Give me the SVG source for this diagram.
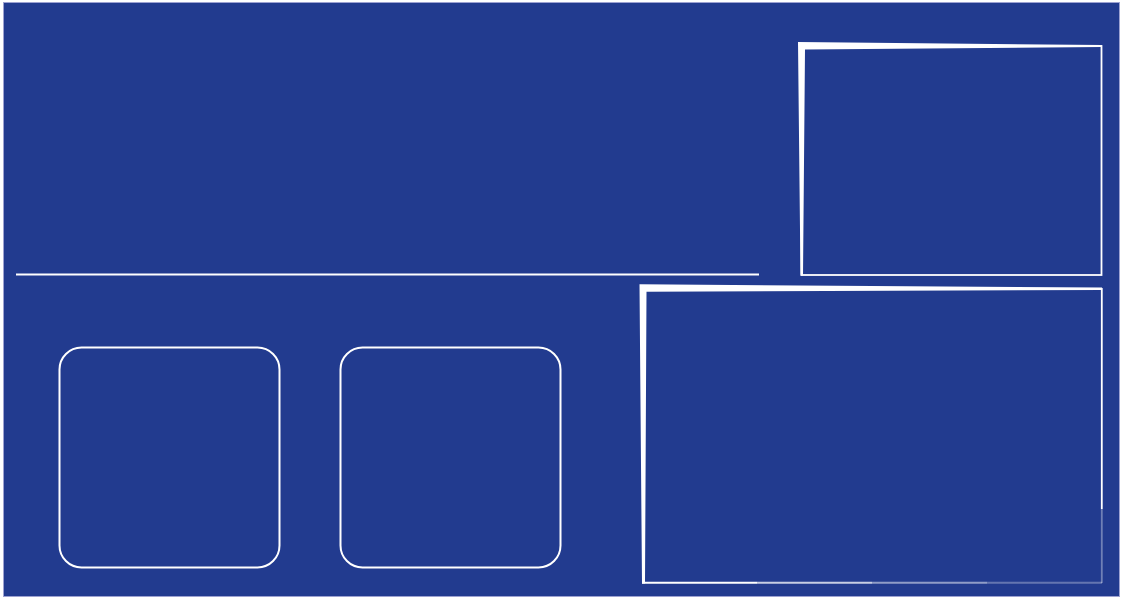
<svg xmlns="http://www.w3.org/2000/svg" width="1126" height="599" viewBox="0 0 1126 599">
  <defs>
    <style>
      .frame { fill: none; stroke: #ffffff; stroke-width: 2; }
      .wedge { fill: #ffffff; }
    </style>
    <linearGradient id="fadeH" gradientUnits="userSpaceOnUse" x1="642" y1="0" x2="1102" y2="0">
      <stop offset="0" stop-color="#ffffff" stop-opacity="1"/>
      <stop offset="0.25" stop-color="#ffffff" stop-opacity="1"/>
      <stop offset="0.25" stop-color="#ffffff" stop-opacity="0.75"/>
      <stop offset="0.5" stop-color="#ffffff" stop-opacity="0.75"/>
      <stop offset="0.5" stop-color="#ffffff" stop-opacity="0.5"/>
      <stop offset="0.75" stop-color="#ffffff" stop-opacity="0.5"/>
      <stop offset="0.75" stop-color="#ffffff" stop-opacity="0.3"/>
      <stop offset="1" stop-color="#ffffff" stop-opacity="0.3"/>
    </linearGradient>
    <linearGradient id="fadeV" gradientUnits="userSpaceOnUse" x1="0" y1="288" x2="0" y2="583">
      <stop offset="0" stop-color="#ffffff" stop-opacity="1"/>
      <stop offset="0.75" stop-color="#ffffff" stop-opacity="1"/>
      <stop offset="0.75" stop-color="#ffffff" stop-opacity="0.35"/>
      <stop offset="1" stop-color="#ffffff" stop-opacity="0.35"/>
    </linearGradient>
  </defs>

  <rect x="0" y="0" width="1126" height="599" fill="#ffffff"/>
  <rect id="background" x="3.5" y="2.5" width="1116" height="594" fill="#223B8F" stroke="#9DA2D2" stroke-width="1"/>

  <g id="connectors">
    <line x1="16" y1="274.5" x2="759" y2="274.5" stroke="#ffffff" stroke-width="2"/>
  </g>

  <g id="panel-top-right">
    <rect x="801.5" y="46" width="300" height="229" fill="none" stroke="#ffffff" stroke-width="1.8"/>
    <polygon class="wedge" points="798,42 1102,45 1102,47 805,49.5 803,275.5 800.5,275.5"/>
  </g>

  <g id="panel-bottom-right">
    <line x1="1101.8" y1="288" x2="1101.8" y2="583" stroke="url(#fadeV)" stroke-width="1.8"/>
    <line x1="642" y1="582.7" x2="1102" y2="582.7" stroke="url(#fadeH)" stroke-width="2"/>
    <polygon class="wedge" points="639.5,284.3 1102,287.5 1102,290 646.5,291.7 645,583.5 642,583.5"/>
  </g>

  <g id="box-1">
    <rect class="frame" x="59.5" y="347.5" width="220" height="220" rx="22" ry="22"/>
  </g>

  <g id="box-2">
    <rect class="frame" x="340.5" y="347.5" width="220" height="220" rx="22" ry="22"/>
  </g>
</svg>
